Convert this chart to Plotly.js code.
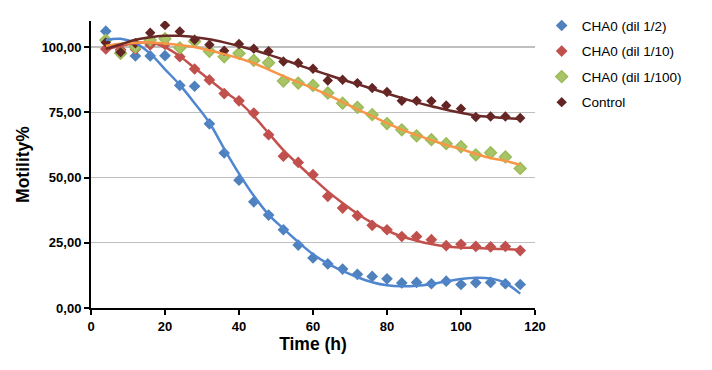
<!DOCTYPE html>
<html>
<head>
<meta charset="utf-8">
<script src="https://cdn.plot.ly/plotly-3.0.1.min.js"></script>
<style>html,body{margin:0;padding:0;background:#fff;}#chart{width:712px;height:370px;}</style>
</head>
<body>
<div id="chart"></div>
<script>
// Measured points (every 4 h)
const time = [4,8,12,16,20,24,28,32,36,40,44,48,52,56,60,64,68,72,76,80,84,88,92,96,100,104,108,112,116];
const dil2 = [106.1,98.5,96.6,96.6,96.7,85.3,85.0,70.6,59.4,49.0,40.7,35.6,30.0,24.1,19.2,16.9,14.9,12.9,12.1,11.2,9.6,9.8,9.3,10.3,9.0,9.7,9.8,9.3,9.0];
const dil10 = [99.3,99.0,99.2,100.8,101.0,96.3,91.6,87.4,82.2,79.4,74.7,66.4,58.2,55.8,51.1,42.8,38.3,35.4,31.7,30.0,27.4,27.4,26.2,23.9,24.4,23.6,23.4,23.6,22.0];
const dil100 = [102.7,97.6,100.0,102.7,103.2,99.7,102.2,98.4,96.3,97.6,94.9,94.0,87.0,86.2,85.3,82.4,78.5,76.9,74.1,70.7,68.3,66.0,64.5,63.0,61.8,58.7,59.5,57.9,53.5];
const control = [101.8,98.0,101.5,105.5,108.4,106.0,102.8,100.9,98.6,101.2,99.4,98.4,94.5,93.9,91.7,87.2,87.5,86.2,84.3,82.8,79.4,79.4,79.3,77.6,76.4,73.2,73.4,73.4,72.8];
// Trendline values at the same times
const trend2 = [102.7,103.2,101.5,97.5,91.5,85.5,78.5,71.0,61.0,51.5,43.0,35.8,30.4,25.3,20.6,17.0,14.2,11.8,9.9,8.7,8.3,8.5,9.2,10.2,11.1,11.6,11.3,9.6,5.5];
const trend10 = [99.0,100.5,101.5,101.8,100.0,96.5,92.0,87.5,83.0,79.0,73.5,67.0,60.5,55.0,49.8,44.7,40.2,36.1,32.6,29.7,27.4,25.8,24.5,23.6,23.2,23.0,22.7,22.6,22.3];
const trend100 = [100.5,101.3,101.7,101.8,101.4,100.8,100.0,98.7,97.3,95.7,93.8,91.4,88.9,86.5,84.2,81.7,78.9,76.1,73.5,70.9,68.4,66.3,64.3,62.5,60.9,59.1,57.5,56.4,54.9];
const trendCtrl = [99.3,101.0,102.8,103.8,104.3,104.3,103.8,103.0,101.8,100.4,98.8,97.1,95.2,93.2,91.2,89.4,87.5,85.8,84.0,82.2,80.5,78.8,77.3,76.0,74.8,73.8,73.2,72.8,72.4];
const names = ['CHA0 (dil 1/2)','CHA0 (dil 1/10)','CHA0 (dil 1/100)','Control'];
const yTickVals = [0,25,50,75,100];
const yTickText = ['0,00','25,00','50,00','75,00','100,00'];
const xTickVals = [0,20,40,60,80,100,120];

const series=[dil2,dil10,dil100,control];
const trends=[trend2,trend10,trend100,trendCtrl];
const markerFill=['#4F81BD','#C0504D','#A8C466','#632523'];
const markerLine=['#4F81BD','#C0504D','#9BBB59','#632523'];
const markerSize=[9,9,9,8];
const lineCol=['#4F86CF','#C4504C','#F79646','#6A2826'];
const data=[];
series.forEach((ys,i)=>{
  data.push({x:time,y:ys,mode:'markers',type:'scatter',name:names[i],legendgroup:'g'+i,
    marker:{symbol:'diamond',size:markerSize[i],color:markerFill[i],line:{color:markerLine[i],width:i===2?1.5:0}}});
});
trends.forEach((ys,i)=>{
  data.push({x:time,y:ys,mode:'lines',type:'scatter',showlegend:false,hoverinfo:'skip',legendgroup:'g'+i,
    line:{color:lineCol[i],width:2.5,shape:'spline',smoothing:1}});
});

const layout={
  width:712,height:370,
  margin:{l:91,r:177,t:21,b:62,autoexpand:false},
  paper_bgcolor:'#fff',plot_bgcolor:'#fff',
  font:{family:'Liberation Sans, Arial, sans-serif',color:'#000'},
  xaxis:{range:[0,120],tickvals:xTickVals,ticks:'outside',ticklen:5,tickwidth:2,tickcolor:'#000',
    showline:true,linecolor:'#000',linewidth:2,showgrid:false,zeroline:false,automargin:false,
    tickfont:{size:13,family:'Liberation Sans, Arial, sans-serif',weight:'bold'},
    title:{text:'<b>Time (h)</b>',font:{size:17.5},standoff:3}},
  yaxis:{range:[0,110],tickvals:yTickVals,ticktext:yTickText,ticks:'outside',ticklen:5,tickwidth:2,tickcolor:'#000',
    showline:true,linecolor:'#000',linewidth:2,showgrid:true,gridcolor:'#BFBFBF',gridwidth:1.3,zeroline:false,automargin:false,
    tickfont:{size:13,family:'Liberation Sans, Arial, sans-serif',weight:'bold'},
    title:{text:'<b>Motility%</b>',font:{size:17.5},standoff:8}},
  legend:{x:1.015,y:1.0375,xanchor:'left',yanchor:'top',font:{size:13.5,family:'Liberation Sans, Arial, sans-serif'},
    tracegroupgap:5,traceorder:'grouped',bgcolor:'rgba(0,0,0,0)'},
  showlegend:true
};
Plotly.newPlot('chart',data,layout,{displayModeBar:false,staticPlot:true});
</script>
</body>
</html>
